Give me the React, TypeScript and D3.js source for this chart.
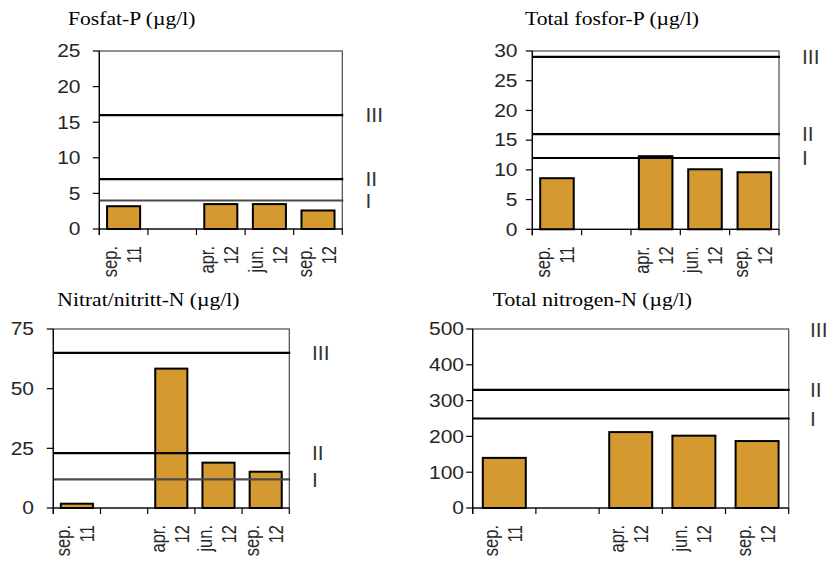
import React from "react";
import * as d3 from "d3";

const catMonth = ["sep.", "", "apr.", "jun.", "sep."];
const catYear = ["11", "", "12", "12", "12"];

const fosfatP = [3.2, null, 3.5, 3.5, 2.6];
const totalP = [8.6, null, 12.3, 10.1, 9.6];
const nitratN = [1.8, null, 58.4, 19.0, 15.2];
const totalN = [140, null, 212, 202, 187];

const classNames = ["I", "II", "III"];
const fosfatLimits = [4, 7, 16];
const totalPLimits = [12, 16, 29];
const nitratLimits = [12, 23, 65];
const totalNLimits = [250, 330, 500];

const fosfatTicks = [0, 5, 10, 15, 20, 25];
const totalPTicks = [0, 5, 10, 15, 20, 25, 30];
const nitratTicks = [0, 25, 50, 75];
const totalNTicks = [0, 100, 200, 300, 400, 500];

const titles = [
  "Fosfat-P (µg/l)",
  "Total fosfor-P (µg/l)",
  "Nitrat/nitritt-N (µg/l)",
  "Total nitrogen-N (µg/l)",
];

type Panel = {
  title: string;
  titleX: number;
  titleY: number;
  left: number;
  right: number;
  top: number;
  bottom: number;
  max: number;
  ticks: number[];
  values: (number | null)[];
  limits: number[];
  limitColors: string[];
  labelEnd: number;
  romanX: number;
};

const panels: Panel[] = [
  {
    title: titles[0], titleX: 68, titleY: 25,
    left: 99.3, right: 342.3, top: 51, bottom: 229,
    max: 25, ticks: fosfatTicks, values: fosfatP, limits: fosfatLimits,
    limitColors: ["#4a4a4a", "#000", "#000"], labelEnd: 80.5, romanX: 365.5,
  },
  {
    title: titles[1], titleX: 525, titleY: 25,
    left: 532.3, right: 779, top: 51, bottom: 229.3,
    max: 30, ticks: totalPTicks, values: totalP, limits: totalPLimits,
    limitColors: ["#000", "#000", "#000"], labelEnd: 517.5, romanX: 802,
  },
  {
    title: titles[2], titleX: 57.3, titleY: 306,
    left: 53.3, right: 289.3, top: 329, bottom: 508,
    max: 75, ticks: nitratTicks, values: nitratN, limits: nitratLimits,
    limitColors: ["#4a4a4a", "#000", "#000"], labelEnd: 34, romanX: 312,
  },
  {
    title: titles[3], titleX: 492.7, titleY: 306,
    left: 472.7, right: 788.7, top: 329, bottom: 508,
    max: 500, ticks: totalNTicks, values: totalN, limits: totalNLimits,
    limitColors: ["#000", "#000", "#000"], labelEnd: 464, romanX: 810,
  },
];

const SX = 1.2;
const SANS = "'Liberation Sans', Arial, sans-serif";
const SERIF = "'Liberation Serif', 'Times New Roman', serif";

function ChartPanel({ p }: { p: Panel }) {
  const idx = catMonth.map((_, i) => i);
  const x = d3.scaleBand<number>().domain(idx).range([p.left, p.right]).padding(0);
  const y = d3.scaleLinear().domain([0, p.max]).range([p.bottom, p.top]);
  const bw = x.bandwidth() * 0.68;
  const boundaries = idx.map((i) => x(i) as number).concat([p.right]);

  return (
    <g>
      <text
        transform={`translate(${p.titleX},${p.titleY}) scale(${SX},1)`}
        fontFamily={SERIF}
        fontSize={18}
        fill="#000"
      >
        {p.title}
      </text>
      <rect
        x={p.left}
        y={p.top}
        width={p.right - p.left}
        height={p.bottom - p.top}
        fill="#fff"
        stroke="#4a4a4a"
        strokeWidth={1.2}
      />
      {p.values.map((v, i) =>
        v == null ? null : (
          <rect
            key={"b" + i}
            x={(x(i) as number) + (x.bandwidth() - bw) / 2}
            y={y(v)}
            width={bw}
            height={p.bottom - y(v)}
            fill="#D49A30"
            stroke="#000"
            strokeWidth={2}
          />
        )
      )}
      {p.limits.map((v, i) =>
        v < p.max ? (
          <line
            key={"l" + i}
            x1={p.left}
            x2={p.right + 1}
            y1={y(v)}
            y2={y(v)}
            stroke={p.limitColors[i]}
            strokeWidth={2.2}
          />
        ) : null
      )}
      <line x1={p.left} x2={p.left} y1={p.top} y2={p.bottom + 6} stroke="#000" strokeWidth={1.2} />
      <line x1={p.left} x2={p.right} y1={p.bottom} y2={p.bottom} stroke="#000" strokeWidth={1.2} />
      {boundaries.map((bx, i) => (
        <line key={"xt" + i} x1={bx} x2={bx} y1={p.bottom} y2={p.bottom + 6} stroke="#000" strokeWidth={1.2} />
      ))}
      {p.ticks.map((t) => (
        <g key={"yt" + t}>
          <line x1={p.left - 6.5} x2={p.left} y1={y(t)} y2={y(t)} stroke="#000" strokeWidth={1.2} />
          <text
            transform={`translate(${p.labelEnd},${y(t) + 6.3}) scale(${SX},1)`}
            textAnchor="end"
            fontFamily={SANS}
            fontSize={17.5}
            fill="#262626"
          >
            {t}
          </text>
        </g>
      ))}
      {idx.map((i) => {
        const cx = (x(i) as number) + x.bandwidth() / 2;
        const ay = p.bottom + 17;
        return (
          <g key={"xl" + i}>
            <text
              transform={`translate(${cx - 6.5},${ay}) scale(${SX},1) rotate(-90)`}
              textAnchor="end"
              fontFamily={SANS}
              fontSize={16.5}
              fill="#262626"
            >
              {catMonth[i]}
            </text>
            <text
              transform={`translate(${cx + 17.5},${ay}) scale(${SX},1) rotate(-90)`}
              textAnchor="end"
              fontFamily={SANS}
              fontSize={16.5}
              fill="#262626"
            >
              {catYear[i]}
            </text>
          </g>
        );
      })}
      {p.limits.map((v, i) => (
        <text
          key={"rl" + i}
          transform={`translate(${p.romanX},${Math.max(y(v), p.top + 1) + 7.2}) scale(1.05,1)`}
          fontFamily={SANS}
          fontSize={20}
          fill="#333"
        >
          {classNames[i]}
        </text>
      ))}
    </g>
  );
}

export default function App() {
  return (
    <div style={{ position: "absolute", left: 0, top: 0 }}>
      <svg width={829} height={563} style={{ display: "block", background: "#fff" }}>
        {panels.map((p, i) => (
          <ChartPanel key={i} p={p} />
        ))}
      </svg>
    </div>
  );
}
